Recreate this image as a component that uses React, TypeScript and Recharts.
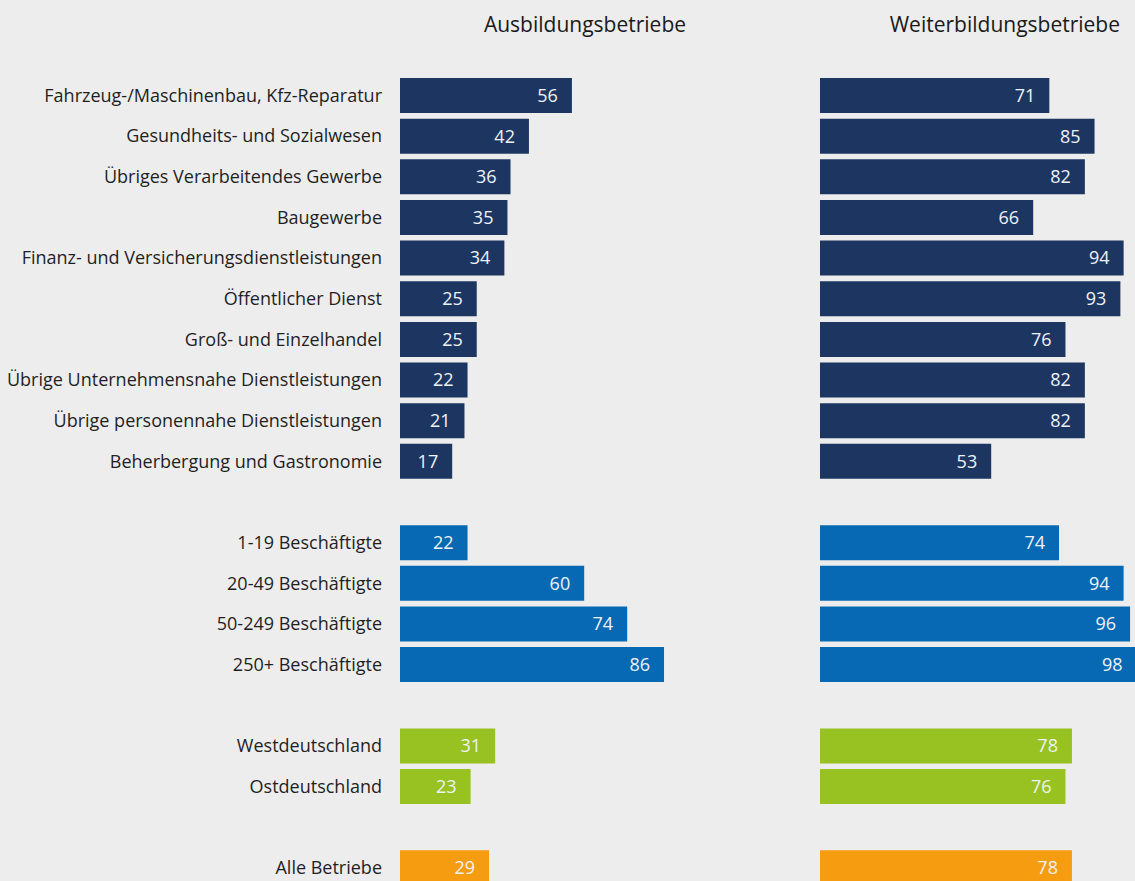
import React from 'react';
import { BarChart, Bar, XAxis, YAxis, Cell, LabelList } from 'recharts';

const branchenLabels = [
  'Fahrzeug-/Maschinenbau, Kfz-Reparatur',
  'Gesundheits- und Sozialwesen',
  'Übriges Verarbeitendes Gewerbe',
  'Baugewerbe',
  'Finanz- und Versicherungsdienstleistungen',
  'Öffentlicher Dienst',
  'Groß- und Einzelhandel',
  'Übrige Unternehmensnahe Dienstleistungen',
  'Übrige personennahe Dienstleistungen',
  'Beherbergung und Gastronomie',
];
const branchenAusbildung = [56, 42, 36, 35, 34, 25, 25, 22, 21, 17];
const branchenWeiterbildung = [71, 85, 82, 66, 94, 93, 76, 82, 82, 53];

const groessenLabels = ['1-19 Beschäftigte', '20-49 Beschäftigte', '50-249 Beschäftigte', '250+ Beschäftigte'];
const groessenAusbildung = [22, 60, 74, 86];
const groessenWeiterbildung = [74, 94, 96, 98];

const regionLabels = ['Westdeutschland', 'Ostdeutschland'];
const regionAusbildung = [31, 23];
const regionWeiterbildung = [78, 76];

const gesamtLabels = ['Alle Betriebe'];
const gesamtAusbildung = [29];
const gesamtWeiterbildung = [78];

const groupColors = ['#1d3661', '#0769b4', '#97c222', '#f59c11'];
const titles = ['Ausbildungsbetriebe', 'Weiterbildungsbetriebe'];

type Row = { key: string; label: string; a: number | null; w: number | null; color: string };

const groups = [
  { labels: branchenLabels, a: branchenAusbildung, w: branchenWeiterbildung },
  { labels: groessenLabels, a: groessenAusbildung, w: groessenWeiterbildung },
  { labels: regionLabels, a: regionAusbildung, w: regionWeiterbildung },
  { labels: gesamtLabels, a: gesamtAusbildung, w: gesamtWeiterbildung },
];

const rows: Row[] = [];
groups.forEach((g, gi) => {
  if (gi > 0) rows.push({ key: `gap-${gi}`, label: '', a: null, w: null, color: 'transparent' });
  g.labels.forEach((l, i) => {
    rows.push({ key: `r-${gi}-${i}`, label: l, a: g.a[i], w: g.w[i], color: groupColors[gi] });
  });
});

const labelMap: Record<string, string> = {};
rows.forEach((r) => (labelMap[r.key] = r.label));

const FONT = '"Open Sans", "Noto Sans", sans-serif';
const CHART_H = 900;
const MARGIN_TOP = 75;
const MARGIN_BOTTOM = CHART_H - 888;

const fmt = (v: any) => (v == null ? '' : String(v));

export default function App() {
  return (
    <div
      style={{
        position: 'fixed',
        top: 0,
        left: 0,
        width: 1135,
        height: 881,
        overflow: 'hidden',
        background: '#ededed',
        fontFamily: FONT,
      }}
    >
      <div style={{ position: 'absolute', left: 435, width: 300, top: 10, textAlign: 'center', fontSize: 21, color: '#1a1a1a' }}>
        {titles[0]}
      </div>
      <div style={{ position: 'absolute', left: 820, width: 300, top: 10, textAlign: 'right', fontSize: 21, color: '#1a1a1a' }}>
        {titles[1]}
      </div>

      <div style={{ position: 'absolute', left: 0, top: 0 }}>
        <BarChart
          width={720}
          height={CHART_H}
          data={rows}
          layout="vertical"
          margin={{ top: MARGIN_TOP, bottom: MARGIN_BOTTOM, left: 0, right: 13 }}
        >
          <XAxis type="number" domain={[0, 100]} hide />
          <YAxis
            type="category"
            dataKey="key"
            width={400}
            axisLine={false}
            tickLine={false}
            tickMargin={12}
            interval={0}
            tickFormatter={(k: string) => labelMap[k] || ''}
            tick={{ fill: '#1f1f1f', fontSize: 18, fontFamily: FONT }}
          />
          <Bar dataKey="a" barSize={35} isAnimationActive={false}>
            {rows.map((r) => (
              <Cell key={r.key} fill={r.color} />
            ))}
            <LabelList
              dataKey="a"
              position="insideRight"
              offset={14}
              formatter={fmt}
              style={{ fill: '#eef2f6', fontSize: 18, fontFamily: FONT }}
            />
          </Bar>
        </BarChart>
      </div>

      <div style={{ position: 'absolute', left: 820, top: 0 }}>
        <BarChart
          width={340}
          height={CHART_H}
          data={rows}
          layout="vertical"
          margin={{ top: MARGIN_TOP, bottom: MARGIN_BOTTOM, left: 0, right: 17 }}
        >
          <XAxis type="number" domain={[0, 100]} hide />
          <YAxis type="category" dataKey="key" hide />
          <Bar dataKey="w" barSize={35} isAnimationActive={false}>
            {rows.map((r) => (
              <Cell key={r.key} fill={r.color} />
            ))}
            <LabelList
              dataKey="w"
              position="insideRight"
              offset={14}
              formatter={fmt}
              style={{ fill: '#eef2f6', fontSize: 18, fontFamily: FONT }}
            />
          </Bar>
        </BarChart>
      </div>
    </div>
  );
}
